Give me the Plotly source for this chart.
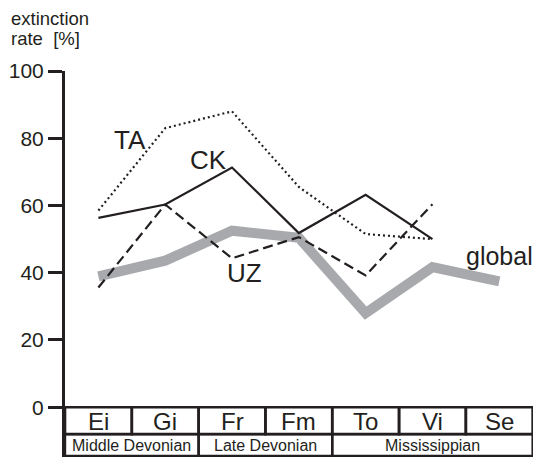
import plotly.graph_objects as go

stages = ["Ei", "Gi", "Fr", "Fm", "To", "Vi", "Se"]
periods = ["Middle Devonian", "Late Devonian", "Mississippian"]
period_spans = [(0, 1), (2, 3), (4, 6)]  # stage index ranges

ta = [58.5, 83.0, 88.0, 65.5, 51.5, 50.0]
ck = [56.3, 60.3, 71.3, 51.8, 63.2, 50.0]
uz = [35.6, 60.3, 44.3, 50.6, 39.2, 60.4]
glob = [38.9, 43.6, 52.5, 50.4, 28.0, 41.7, 37.4]

y_ticks = [0, 20, 40, 60, 80, 100]

INK = "#231f20"
FONT = "Liberation Sans, Arial, sans-serif"

fig = go.Figure()
fig.add_trace(go.Scatter(x=stages[:len(glob)], y=glob, mode="lines",
                         line=dict(color="#a7a9ac", width=10), hoverinfo="skip"))
fig.add_trace(go.Scatter(x=stages[:len(ta)], y=ta, mode="lines",
                         line=dict(color=INK, width=2.2, dash="2px,3px")))
fig.add_trace(go.Scatter(x=stages[:len(ck)], y=ck, mode="lines",
                         line=dict(color=INK, width=2.2)))
fig.add_trace(go.Scatter(x=stages[:len(uz)], y=uz, mode="lines",
                         line=dict(color=INK, width=2.2, dash="10px,5px")))

ROW1 = -8.0
ROW2 = -14.5
shapes = []
for i in range(len(stages)):
    shapes.append(dict(type="rect", xref="x", yref="y", x0=i - 0.5, x1=i + 0.5,
                       y0=0, y1=ROW1, line=dict(color=INK, width=2.6)))
for (a, b) in period_spans:
    shapes.append(dict(type="rect", xref="x", yref="y", x0=a - 0.5, x1=b + 0.5,
                       y0=ROW1, y1=ROW2, line=dict(color=INK, width=2.4)))

annotations = []
for i, s in enumerate(stages):
    annotations.append(dict(x=i, y=(0 + ROW1) / 2 - 0.2, xref="x", yref="y", text=s,
                            showarrow=False, font=dict(size=24, color=INK, family=FONT),
                            xanchor="center", yanchor="middle"))
for (a, b), p in zip(period_spans, periods):
    annotations.append(dict(x=(a + b) / 2, y=(ROW1 + ROW2) / 2 - 0.1, xref="x", yref="y", text=p,
                            showarrow=False, font=dict(size=16, color=INK, family=FONT),
                            xanchor="center", yanchor="middle"))

labels = [("TA", 0.48, 79.6, "center", 26), ("CK", 1.65, 73.4, "center", 26),
          ("UZ", 2.18, 39.8, "center", 26), ("global", 5.47, 45.0, "left", 25)]
for t, x, y, anc, fs in labels:
    annotations.append(dict(x=x, y=y, xref="x", yref="y", text=t, showarrow=False,
                            font=dict(size=fs, color=INK, family=FONT),
                            xanchor=anc, yanchor="middle"))

annotations.append(dict(x=-0.119, y=1.136, xref="paper", yref="paper", text="extinction",
                        showarrow=False, xanchor="left", yanchor="middle",
                        font=dict(size=18.5, color=INK, family=FONT)))
annotations.append(dict(x=-0.119, y=1.083, xref="paper", yref="paper", text="rate\u00a0\u00a0[%]",
                        showarrow=False, xanchor="left", yanchor="middle",
                        font=dict(size=18.5, color=INK, family=FONT)))

# the page body has an 8px default margin; size the figure so the page does not overflow
fig.update_layout(
    width=533, height=450,
    margin=dict(l=55, r=7, t=63, b=1),
    paper_bgcolor="white", plot_bgcolor="white",
    showlegend=False,
    shapes=shapes, annotations=annotations,
    xaxis=dict(type="category", categoryorder="array", categoryarray=stages,
               range=[-0.5, 6.52], visible=False, fixedrange=True),
    yaxis=dict(range=[-14.8, 100], tickvals=y_ticks, ticktext=[str(v) for v in y_ticks],
               showline=True, linecolor=INK, linewidth=3, ticks="outside", ticklen=14,
               tickwidth=3, tickcolor=INK, showgrid=False, zeroline=False,
               tickfont=dict(size=21, color=INK, family=FONT), fixedrange=True),
)

fig.write_html("out.html")
